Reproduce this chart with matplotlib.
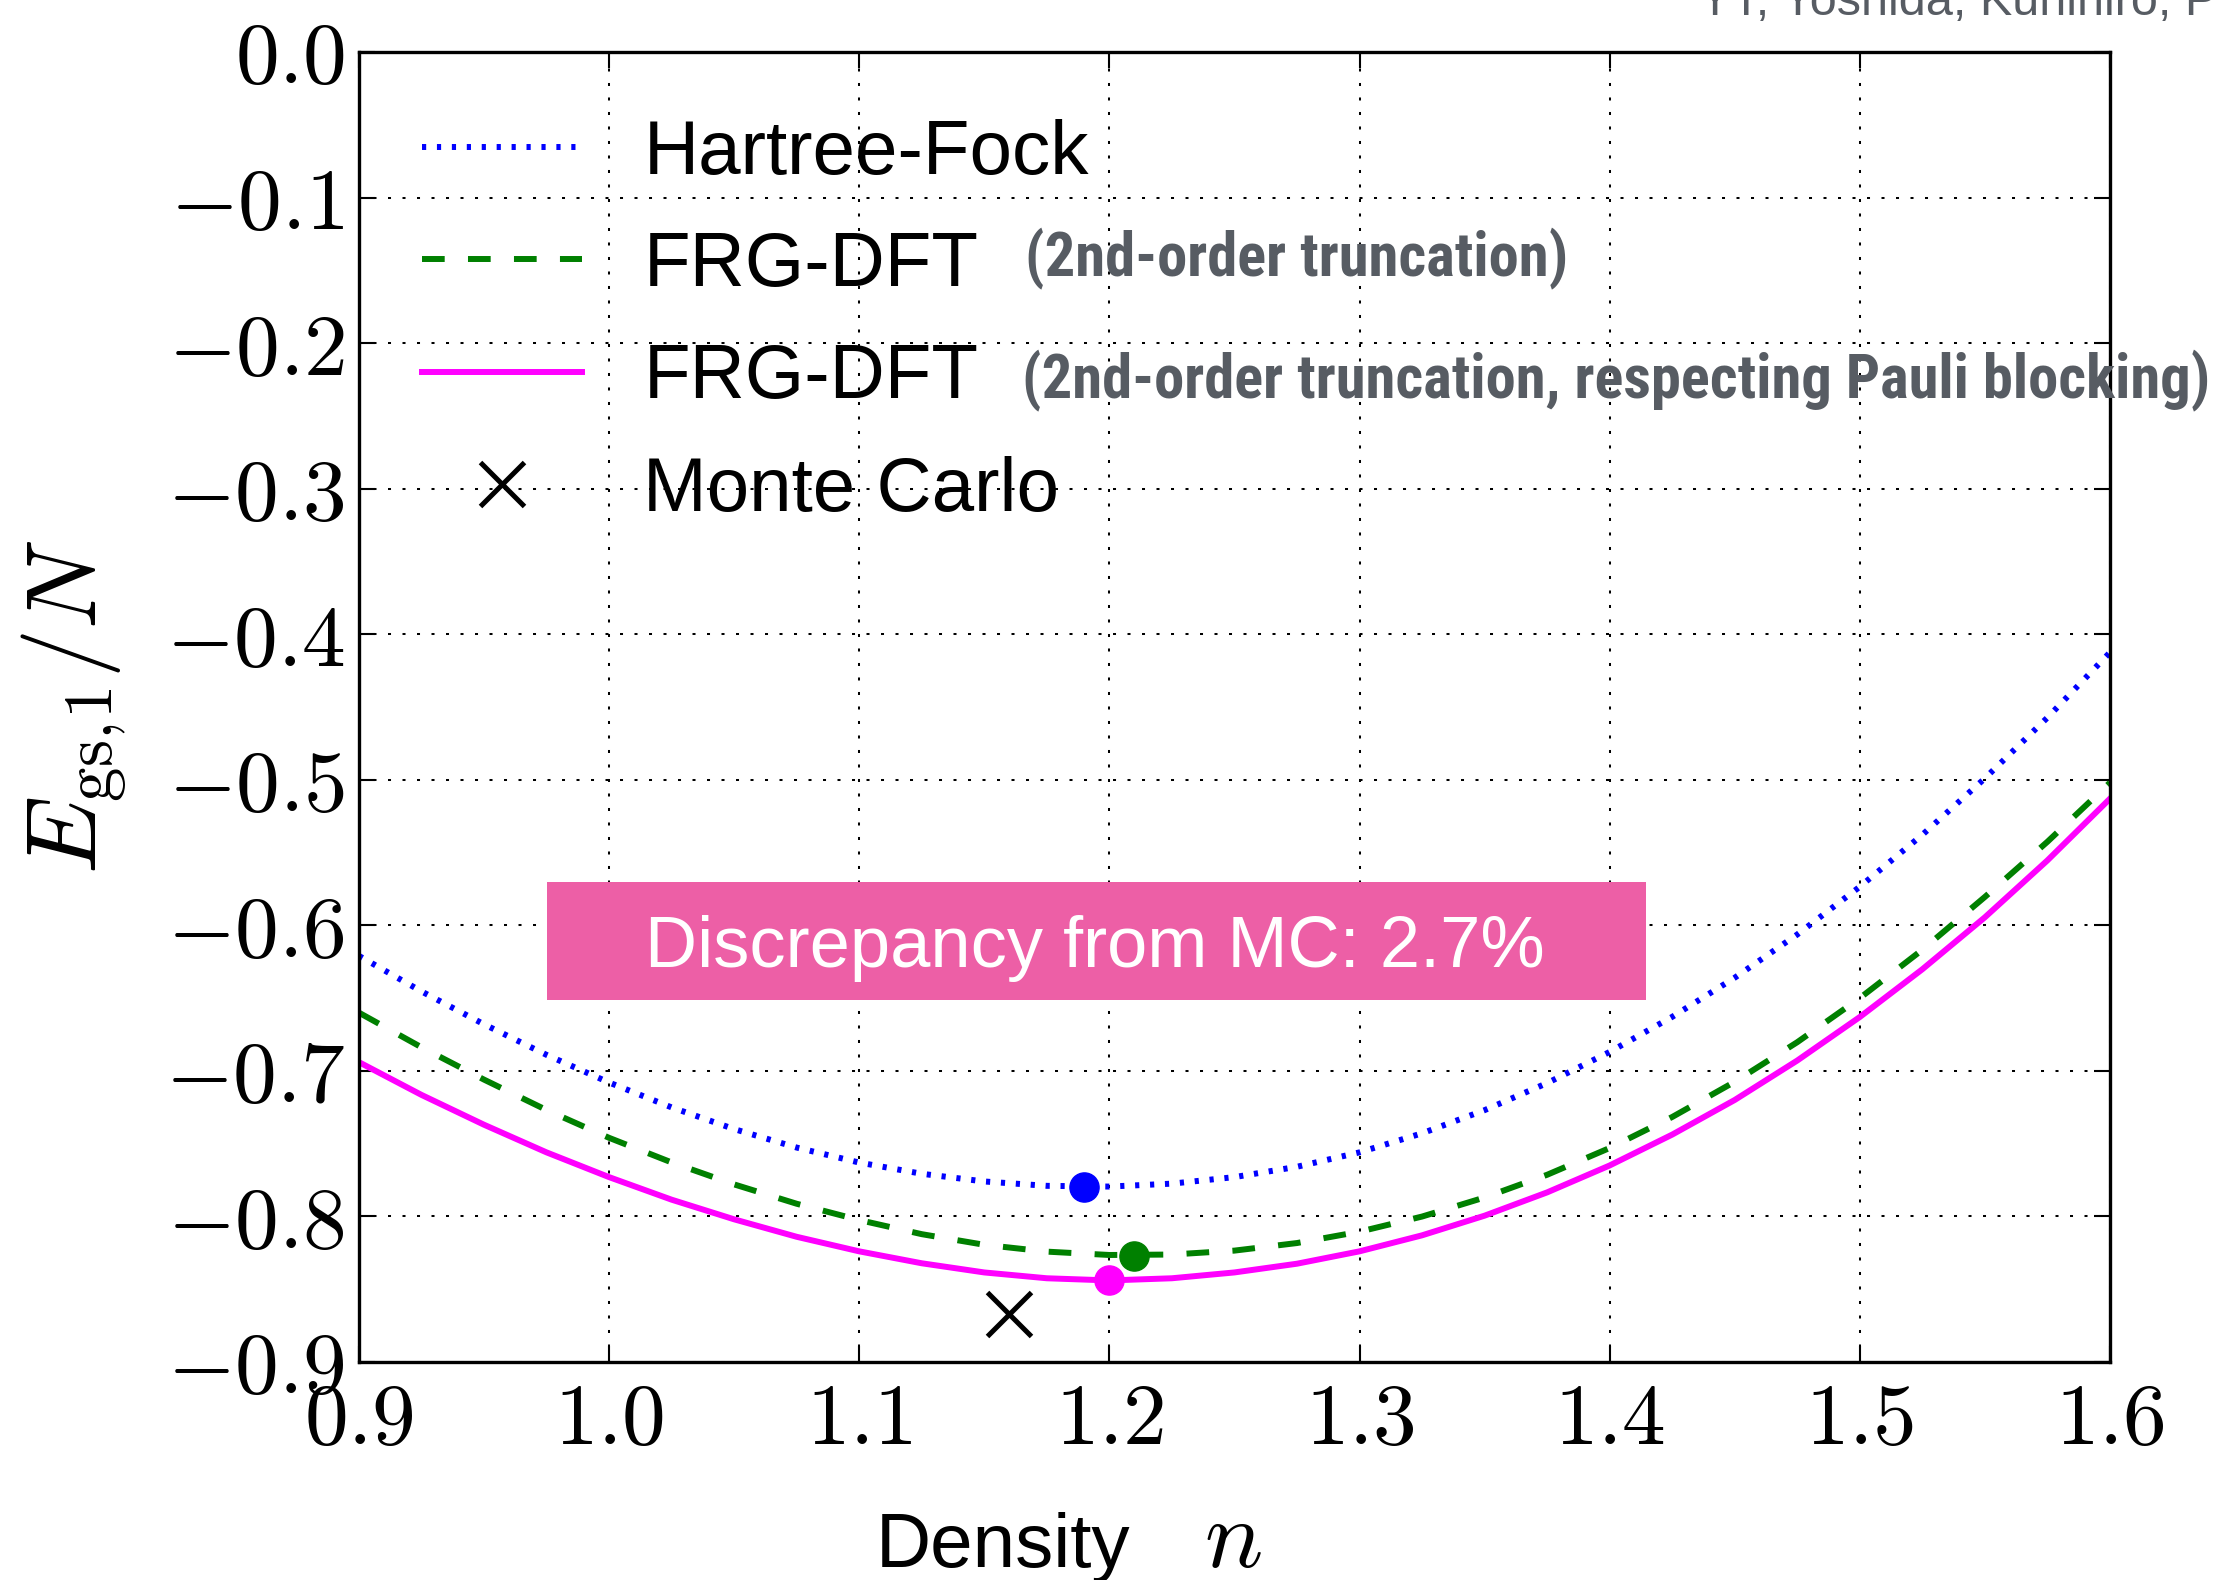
import matplotlib
matplotlib.use("Agg")
import matplotlib.pyplot as plt
from matplotlib import font_manager
from matplotlib.patches import Rectangle
from matplotlib.ticker import FuncFormatter, MultipleLocator

plt.rcParams['mathtext.fontset'] = 'cm'
plt.rcParams['font.family'] = ['Liberation Sans', 'DejaVu Sans']

# ground-state energy per particle vs density
n = [0.900, 0.925, 0.950, 0.975, 1.000, 1.025, 1.050, 1.075, 1.100, 1.125,
     1.150, 1.175, 1.200, 1.225, 1.250, 1.275, 1.300, 1.325, 1.350, 1.375,
     1.400, 1.425, 1.450, 1.475, 1.500, 1.525, 1.550, 1.575, 1.600]
e_hf = [-0.6210, -0.6454, -0.6680, -0.6890, -0.7080, -0.7251, -0.7400, -0.7527,
        -0.7630, -0.7707, -0.7760, -0.7790, -0.7795, -0.7775, -0.7730, -0.7659,
        -0.7560, -0.7429, -0.7270, -0.7084, -0.6870, -0.6629, -0.6360, -0.6063,
        -0.5735, -0.5378, -0.4990, -0.4573, -0.4125]
e_frg = [-0.6600, -0.6838, -0.7060, -0.7269, -0.7460, -0.7629, -0.7780, -0.7913,
         -0.8025, -0.8122, -0.8195, -0.8242, -0.8265, -0.8262, -0.8235, -0.8183,
         -0.8105, -0.8001, -0.7870, -0.7714, -0.7530, -0.7317, -0.7075, -0.6803,
         -0.6500, -0.6168, -0.5805, -0.5426, -0.5020]
e_pauli = [-0.6940, -0.7165, -0.7370, -0.7560, -0.7730, -0.7885, -0.8020, -0.8140,
           -0.8240, -0.8322, -0.8385, -0.8425, -0.8440, -0.8425, -0.8385, -0.8325,
           -0.8240, -0.8130, -0.7995, -0.7835, -0.7650, -0.7438, -0.7200, -0.6929,
           -0.6630, -0.6302, -0.5945, -0.5554, -0.5130]

# saturation points and Monte Carlo result
n_sat = [1.19, 1.21, 1.20]
e_sat = [-0.780, -0.827, -0.844]
sat_colors = ['blue', 'green', 'magenta']
n_mc = [1.16]
e_mc = [-0.867]

labels = ['Hartree-Fock', 'FRG-DFT', 'FRG-DFT', 'Monte Carlo']
notes = ['(2nd-order truncation)', '(2nd-order truncation, respecting Pauli blocking)']
grey = '#575c63'

fig = plt.figure(figsize=(22.25, 15.8), dpi=100)
ax = fig.add_axes([0.1613, 0.1380, 0.7870, 0.8291])

lw = 4.3
ax.plot(n, e_hf, color='blue', lw=lw, linestyle=(0, (0.7, 1.8)), label=labels[0])
ax.plot(n, e_frg, color='green', lw=lw, linestyle=(0, (3.8, 3.9)), label=labels[1])
ax.plot(n, e_pauli, color='magenta', lw=lw, label=labels[2])
ax.plot(n_mc, e_mc, 'x', color='black', ms=31, mew=3.6, label=labels[3])
for x, y, c in zip(n_sat, e_sat, sat_colors):
    ax.plot([x], [y], 'o', color=c, mec=c, ms=21, zorder=5)

ax.set_xlim(0.9, 1.6)
ax.set_ylim(-0.9, 0.0)
ax.xaxis.set_major_locator(MultipleLocator(0.1))
ax.yaxis.set_major_locator(MultipleLocator(0.1))
fmt = FuncFormatter(lambda v, p: "$%.1f$" % (0.0 if abs(v) < 1e-9 else v))
ax.xaxis.set_major_formatter(fmt)
ax.yaxis.set_major_formatter(fmt)
ax.tick_params(direction='in', length=11.5, width=1.5, top=True, right=True,
               labelsize=63)
ax.tick_params(axis='x', pad=14)
ax.tick_params(axis='y', pad=10)
for s in ax.spines.values():
    s.set_linewidth(2.4)
ax.grid(True, color='black', linestyle=(0, (1.5, 5.7)), linewidth=1.45)

leg = ax.legend(loc='upper left', bbox_to_anchor=(0.036, 0.949), frameon=False,
                prop={'family': 'Liberation Sans', 'size': 55}, handlelength=2.1,
                handletextpad=0.8, labelspacing=0.54, borderpad=0, borderaxespad=0,
                numpoints=1)

# grey notes next to the FRG-DFT entries, in a narrow bold face if one exists
names = {f.name for f in font_manager.fontManager.ttflist}
note_font = 'Liberation Sans'
for cand in ['Roboto Condensed', 'Liberation Sans Narrow', 'Open Sans Condensed']:
    if cand in names:
        note_font = cand
        break
note1 = fig.text(0.4607, 0.8249, notes[0], color=grey, fontsize=40, fontweight='bold',
                 family=note_font, va='baseline')
note2 = fig.text(0.4593, 0.7480, notes[1], color=grey, fontsize=40, fontweight='bold',
                 family=note_font, va='baseline')
fig.canvas.draw()
scale = 1187.0 / note2.get_window_extent().width
for t in (note1, note2):
    t.set_fontsize(40 * scale)

# highlighted box
fig.add_artist(Rectangle((0.2460, 0.3671), 0.4939, 0.0745, transform=fig.transFigure,
                         facecolor='#ED5FA6', edgecolor='none'))
fig.text(0.4921, 0.3882, 'Discrepancy from MC: 2.7%', color='white', fontsize=52,
         ha='center', va='baseline')

# axis labels
fig.text(0.3937, 0.0082, 'Density', fontsize=55, va='baseline')
fig.text(0.5411, 0.0082, r'$n$', fontsize=70, va='baseline')
fig.text(0.0333, 0.5525, r'$E_{\mathrm{gs},\!1}/N$', rotation=90, fontsize=71,
         ha='center', va='center')

fig.text(0.7636, 0.9905, 'YT, Yoshida, Kunihiro, PTEP', color=grey, fontsize=35,
         va='baseline')

fig.savefig('out.png', dpi=100)
